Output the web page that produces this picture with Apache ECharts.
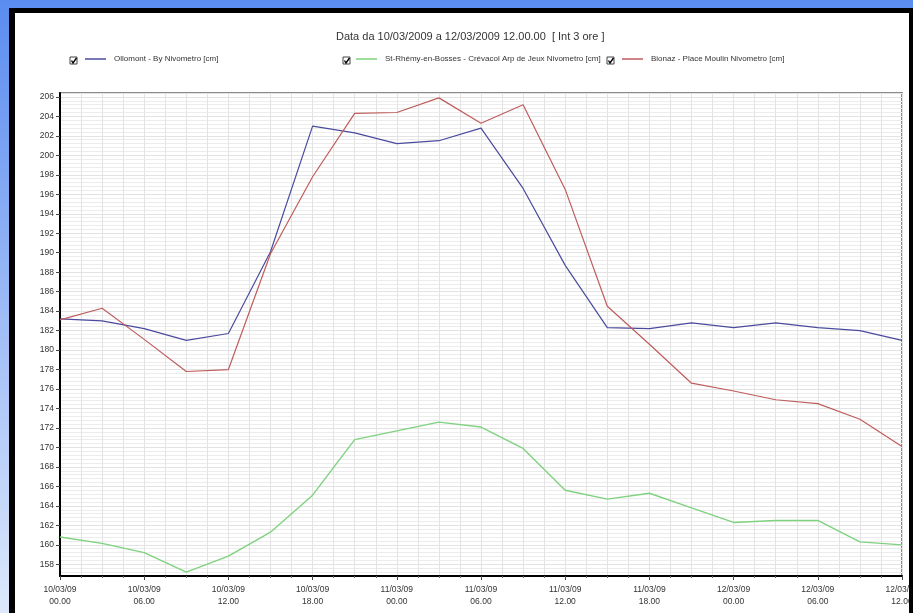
<!DOCTYPE html>
<html>
<head>
<meta charset="utf-8">
<script src="https://cdn.jsdelivr.net/npm/echarts@6/dist/echarts.min.js"></script>
<style>html,body{margin:0;padding:0;}#c{width:913px;height:613px;}</style>
</head>
<body>
<div id="c"></div>
<script>
const titleText = 'Data da 10/03/2009 a 12/03/2009 12.00.00  [ Int 3 ore ]';
const seriesNames = ['Ollomont - By Nivometro [cm]', 'St-Rhémy-en-Bosses - Crévacol Arp de Jeux Nivometro [cm]', 'Bionaz - Place Moulin Nivometro [cm]'];
const times = ['10/03/09 00.00','10/03/09 03.00','10/03/09 06.00','10/03/09 09.00','10/03/09 12.00','10/03/09 15.00','10/03/09 18.00','10/03/09 21.00',
               '11/03/09 00.00','11/03/09 03.00','11/03/09 06.00','11/03/09 09.00','11/03/09 12.00','11/03/09 15.00','11/03/09 18.00','11/03/09 21.00',
               '12/03/09 00.00','12/03/09 03.00','12/03/09 06.00','12/03/09 09.00','12/03/09 12.00'];
const hours = [0,3,6,9,12,15,18,21,24,27,30,33,36,39,42,45,48,51,54,57,60];
const ollomont = [183.2,183.0,182.2,181.0,181.7,190.1,203.0,202.3,201.2,201.5,202.8,196.6,188.7,182.3,182.2,182.8,182.3,182.8,182.3,182.0,181.0];
const stRhemy  = [160.8,160.15,159.2,157.2,158.85,161.3,165.1,170.8,171.7,172.6,172.1,169.9,165.6,164.7,165.3,163.8,162.3,162.5,162.5,160.3,160.0];
const bionaz   = [183.1,184.3,181.1,177.8,178.0,189.9,197.8,204.3,204.4,205.9,203.3,205.2,196.5,184.5,180.6,176.6,175.8,174.9,174.5,172.9,170.1];
const xTickLabels = ['10/03/09\n00.00','10/03/09\n06.00','10/03/09\n12.00','10/03/09\n18.00','11/03/09\n00.00','11/03/09\n06.00',
                     '11/03/09\n12.00','11/03/09\n18.00','12/03/09\n00.00','12/03/09\n06.00','12/03/09\n12.00'];
const colors = ['#4b4b9e', '#7fd27f', '#bf5c5c'];

function pairs(vals){ return vals.map((v,i)=>[hours[i], v]); }

const chart = echarts.init(document.getElementById('c'));
const font = 'Liberation Sans, Arial, sans-serif';

function checkbox(x, y){
  return [
    {type:'rect', shape:{x:x, y:y, width:7, height:7}, style:{fill:'#fff', stroke:'#444', lineWidth:1}, z:50},
    {type:'polyline', shape:{points:[[x+1.5,y+3.5],[x+3,y+6],[x+6.5,y+1]]}, style:{stroke:'#000', lineWidth:1.4, fill:null}, z:51}
  ];
}

chart.setOption({
  backgroundColor: new echarts.graphic.LinearGradient(0,0,0,1,[{offset:0,color:'#5a8cf0'},{offset:1,color:'#dde8fb'}]),
  animation: false,
  textStyle: {fontFamily: font},
  title: {text: titleText, left: 336, top: 31, padding: 0,
          textStyle:{fontSize:11, fontWeight:'normal', color:'#333', fontFamily: font}},
  legend: [
    {data:[seriesNames[0]], left: 85, top: 55},
    {data:[seriesNames[1]], left: 356, top: 55},
    {data:[seriesNames[2]], left: 622, top: 55}
  ].map(l => Object.assign(l, {padding:0, icon:'rect', itemWidth:21, itemHeight:1.5, selectedMode:false,
        textStyle:{fontSize:8, color:'#333', fontFamily: font, padding:[0,0,0,3]}})),
  graphic: [
    {type:'rect', shape:{x:9, y:8, width:904, height:610}, style:{fill:'#000'}, z:-2},
    {type:'rect', shape:{x:15, y:13, width:894, height:605}, style:{fill:'#fff'}, z:-1},
    {type:'rect', shape:{x:909, y:8, width:4, height:610}, style:{fill:'#000'}, z:100}
  ].concat(checkbox(70,57), checkbox(343,57), checkbox(607,57)),
  grid: {left:60, right:11, top:93, bottom:37, outerBoundsMode:'none', containLabel:false,
         show:true, borderColor:'#8a8a8a', borderWidth:2, backgroundColor:'#fff'},
  xAxis: {
    type:'value', min:0, max:60, interval:6,
    axisLine:{show:true, lineStyle:{color:'#000', width:2}},
    axisTick:{show:true, length:4, lineStyle:{color:'#444'}},
    minorTick:{show:true, splitNumber:4, length:2, lineStyle:{color:'#666'}},
    splitLine:{show:true, lineStyle:{color:'#e3e3e3', width:1}},
    minorSplitLine:{show:true, lineStyle:{color:'#e3e3e3', width:1}},
    axisLabel:{fontSize:8.5, color:'#333', lineHeight:12, margin:8, fontFamily: font,
               formatter: v => xTickLabels[Math.round(v/6)] || ''}
  },
  yAxis: {
    type:'value', min:156.8, max:206.4, splitNumber:25,
    axisLine:{show:true, lineStyle:{color:'#000', width:2}},
    axisTick:{show:true, length:4, lineStyle:{color:'#444'}},
    minorTick:{show:false},
    splitLine:{show:true, lineStyle:{color:'#e3e3e3', width:1}},
    minorSplitLine:{show:true, lineStyle:{color:'#ececec', width:1}},
    axisLabel:{fontSize:8.5, color:'#333', margin:6, showMinLabel:false, showMaxLabel:false, fontFamily: font}
  },
  series: [
    {name:seriesNames[0], type:'line', data:pairs(ollomont), showSymbol:false, lineStyle:{color:colors[0], width:1.2}, itemStyle:{color:colors[0]}},
    {name:seriesNames[1], type:'line', data:pairs(stRhemy), showSymbol:false, lineStyle:{color:colors[1], width:1.4}, itemStyle:{color:colors[1]}},
    {name:seriesNames[2], type:'line', data:pairs(bionaz), showSymbol:false, lineStyle:{color:colors[2], width:1.2}, itemStyle:{color:colors[2]}}
  ]
});
</script>
</body>
</html>
